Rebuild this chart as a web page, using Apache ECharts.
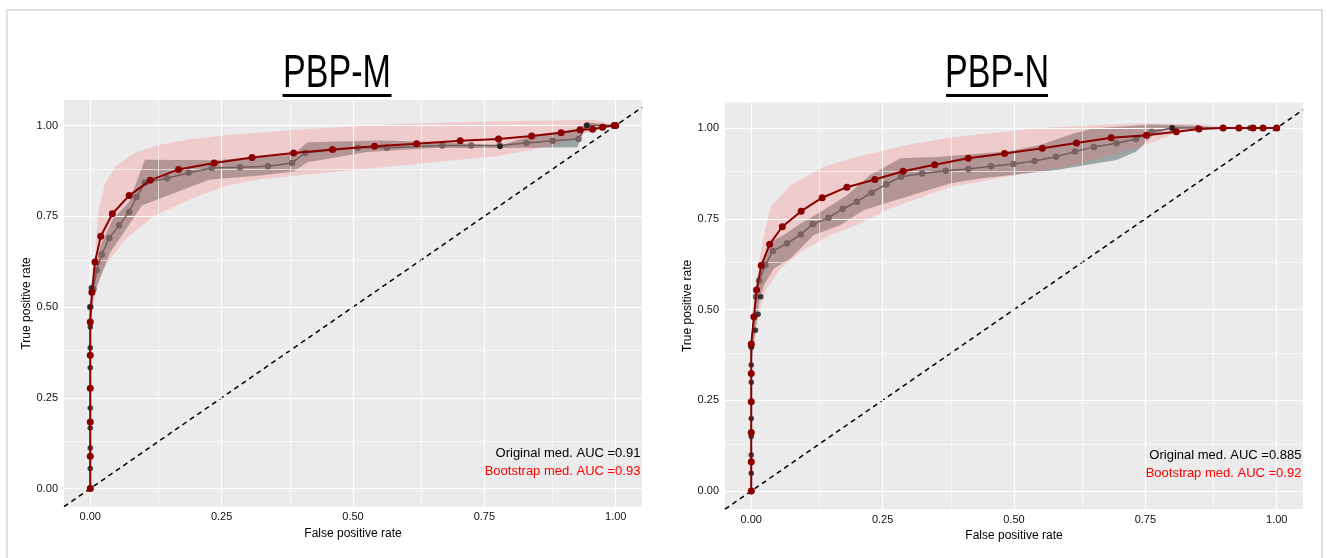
<!DOCTYPE html>
<html>
<head>
<meta charset="utf-8">
<script src="https://cdn.jsdelivr.net/npm/echarts@6/dist/echarts.min.js"></script>
<style>
  html, body { margin: 0; padding: 0; background: #ffffff; }
  #chart { width: 1327px; height: 558px; }
</style>
</head>
<body>
<div id="chart"></div>
<script>
// ---- data: ROC curves as [false positive rate, true positive rate] ----
const panelTitles = ['PBP-M', 'PBP-N'];
const tickValues = [0, 0.25, 0.5, 0.75, 1];
const minorValues = [0.125, 0.375, 0.625, 0.875];
const xAxisTitle = 'False positive rate';
const yAxisTitle = 'True positive rate';
const diagonalRef = [[-0.05, -0.05], [1.05, 1.05]];

// PBP-M
const mBootRoc = [[0,0],[0,0.089],[0,0.183],[0,0.276],[0,0.367],[0,0.459],[0.003,0.541],[0.009,0.624],[0.020,0.695],[0.042,0.757],[0.074,0.807],[0.114,0.849],[0.168,0.879],[0.236,0.897],[0.308,0.912],[0.387,0.924],[0.461,0.934],[0.541,0.943],[0.621,0.950],[0.704,0.958],[0.777,0.963],[0.840,0.971],[0.896,0.980],[0.932,0.988],[0.956,0.990],[0.975,0.995],[0.997,1.0],[1,1]];
const mOrigRoc = [[0,0],[0,0.5],[0.006,0.55],[0.012,0.601],[0.022,0.645],[0.036,0.690],[0.055,0.725],[0.074,0.762],[0.088,0.803],[0.104,0.842],[0.146,0.855],[0.187,0.870],[0.231,0.883],[0.285,0.885],[0.338,0.888],[0.384,0.897],[0.409,0.925],[0.509,0.939],[0.564,0.939],[0.670,0.945],[0.725,0.945],[0.779,0.945],[0.830,0.952],[0.880,0.958],[0.929,0.963],[0.945,1.0],[1,1]];
const mRawPts = [[0,0],[0,0.055],[0,0.112],[0,0.167],[0,0.222],[0,0.333],[0,0.388],[0,0.445],[0,0.5],[0.002,0.553],[0.78,0.942],[0.945,1.0],[1,1]];
const mOrigUpper = [[0,0.5],[0.006,0.59],[0.02,0.67],[0.042,0.74],[0.074,0.79],[0.104,0.906],[0.234,0.904],[0.324,0.913],[0.387,0.92],[0.413,0.954],[0.55,0.959],[0.65,0.955],[0.72,0.950],[0.78,0.945],[0.844,0.974],[0.927,0.991],[0.946,1.009],[1,1]];
const mOrigLower = [[0,0.45],[0.006,0.532],[0.018,0.578],[0.038,0.651],[0.069,0.716],[0.098,0.78],[0.165,0.817],[0.228,0.851],[0.324,0.862],[0.387,0.873],[0.413,0.899],[0.527,0.927],[0.653,0.938],[0.78,0.938],[0.927,0.94],[0.943,1.0],[1,1]];
const mBootUpper = [[0,0.5],[0.006,0.569],[0.015,0.76],[0.028,0.84],[0.05,0.89],[0.085,0.925],[0.13,0.946],[0.19,0.962],[0.260,0.974],[0.419,0.991],[0.59,1.005],[0.78,1.012],[0.959,1.016],[1,1]];
const mBootLower = [[0,0.45],[0.011,0.55],[0.031,0.62],[0.069,0.69],[0.12,0.75],[0.196,0.80],[0.26,0.835],[0.324,0.852],[0.419,0.866],[0.59,0.89],[0.78,0.917],[0.88,0.945],[0.94,0.978],[1,1]];
const mAucText = ['Original med. AUC =0.91', 'Bootstrap med. AUC =0.93'];

// PBP-N
const nBootRoc = [[0,0],[0,0.081],[0,0.161],[0,0.246],[0,0.324],[0,0.405],[0.005,0.48],[0.01,0.554],[0.019,0.621],[0.035,0.68],[0.059,0.728],[0.095,0.771],[0.135,0.808],[0.182,0.837],[0.235,0.858],[0.289,0.881],[0.349,0.899],[0.413,0.917],[0.482,0.930],[0.554,0.944],[0.619,0.959],[0.685,0.973],[0.752,0.980],[0.809,0.990],[0.852,0.997],[0.898,1],[0.928,1],[0.955,1],[0.974,1],[1,1]];
const nOrigRoc = [[0,0],[0,0.4],[0.009,0.535],[0.015,0.58],[0.027,0.623],[0.041,0.661],[0.068,0.682],[0.094,0.707],[0.117,0.735],[0.147,0.753],[0.174,0.777],[0.201,0.797],[0.229,0.822],[0.257,0.845],[0.285,0.866],[0.325,0.875],[0.370,0.882],[0.413,0.887],[0.456,0.895],[0.499,0.901],[0.539,0.909],[0.580,0.921],[0.616,0.935],[0.652,0.948],[0.695,0.958],[0.732,0.970],[0.762,0.990],[0.801,1],[1,1]];
const nRawPts = [[0,0],[0,0.049],[0,0.099],[0,0.15],[0,0.2],[0,0.246],[0,0.3],[0,0.347],[0,0.396],[0.008,0.443],[0.013,0.487],[0.018,0.535],[0.801,1],[0.85,1],[0.898,1],[0.949,1],[1,1]];
const nOrigUpper = [[0,0.4],[0.008,0.54],[0.021,0.632],[0.037,0.687],[0.062,0.705],[0.094,0.737],[0.138,0.774],[0.182,0.815],[0.227,0.871],[0.284,0.917],[0.36,0.921],[0.486,0.935],[0.55,0.953],[0.613,0.985],[0.651,0.999],[0.759,1.01],[0.848,1.006],[0.898,1.0],[1,1]];
const nOrigLower = [[0,0.35],[0.015,0.521],[0.024,0.567],[0.043,0.613],[0.075,0.641],[0.119,0.705],[0.17,0.733],[0.214,0.774],[0.265,0.797],[0.379,0.848],[0.436,0.861],[0.581,0.884],[0.695,0.912],[0.733,0.935],[0.765,0.981],[0.803,1.0],[1,1]];
const nBootUpper = [[0,0.4],[0.008,0.54],[0.015,0.632],[0.027,0.724],[0.037,0.783],[0.075,0.843],[0.138,0.893],[0.201,0.921],[0.296,0.953],[0.379,0.974],[0.55,1.0],[0.74,1.013],[0.867,1.01],[0.9,1.0],[1,1]];
const nBootLower = [[0,0.35],[0.015,0.494],[0.030,0.558],[0.056,0.613],[0.094,0.659],[0.151,0.705],[0.201,0.733],[0.265,0.779],[0.379,0.838],[0.487,0.866],[0.613,0.898],[0.74,0.948],[0.803,0.983],[0.867,0.999],[1,1]];
const nAucText = ['Original med. AUC =0.885', 'Bootstrap med. AUC =0.92'];

// ---- layout & styling ----
const FONT = '"Liberation Sans", Arial, sans-serif';
const panels = [
  { grid: { left: 64, top: 100.1 }, titleX: 337, titleW: 109,
    boot: mBootRoc, orig: mOrigRoc, raw: mRawPts,
    origUp: mOrigUpper, origLo: mOrigLower, bootUp: mBootUpper, bootLo: mBootLower, auc: mAucText },
  { grid: { left: 725, top: 102.6 }, titleX: 997, titleW: 102,
    boot: nBootRoc, orig: nOrigRoc, raw: nRawPts,
    origUp: nOrigUpper, origLo: nOrigLower, bootUp: nBootUpper, bootLo: nBootLower, auc: nAucText }
];
const aucColors = ['#000000', '#ff0000'];
const aucAnchor = [[1.047, 0.098], [1.047, 0.048]];

function ribbonRenderer(upper, lower, fill) {
  return function (params, api) {
    const pts = upper.concat(lower.slice().reverse()).map(p => api.coord(p));
    return { type: 'polygon', shape: { points: pts }, style: { fill: fill }, silent: true };
  };
}

function gridLines() {
  const major = { color: '#ffffff', width: 1.2, type: 'solid' };
  const minor = { color: '#ffffff', width: 0.6, type: 'solid' };
  const items = [];
  tickValues.forEach(v => { items.push({ xAxis: v, lineStyle: major }); items.push({ yAxis: v, lineStyle: major }); });
  minorValues.forEach(v => { items.push({ xAxis: v, lineStyle: minor }); items.push({ yAxis: v, lineStyle: minor }); });
  return items;
}

const grids = [], xAxes = [], yAxes = [], series = [], graphics = [];

graphics.push({ type: 'rect', shape: { x: 7, y: 10, width: 1315, height: 560 },
  style: { fill: 'none', stroke: '#e0e0e0', lineWidth: 2 }, silent: true });

panels.forEach((p, i) => {
  grids.push({ left: p.grid.left, top: p.grid.top, width: 578, height: 406.6, show: true,
    backgroundColor: '#ebebeb', borderWidth: 0, containLabel: false });
  const common = {
    type: 'value', gridIndex: i,
    axisLine: { show: false },
    axisTick: { show: true, customValues: tickValues, length: 3, lineStyle: { color: '#222222', width: 1 } },
    axisLabel: { customValues: tickValues, formatter: v => Number(v).toFixed(2),
      color: '#111111', fontSize: 11, fontFamily: FONT },
    splitLine: { show: false },
    nameLocation: 'middle',
    nameTextStyle: { fontSize: 12, color: '#000000', fontFamily: FONT }
  };
  xAxes.push(Object.assign({}, common, { min: -0.05, max: 1.05, name: xAxisTitle, nameGap: 20,
    axisLabel: Object.assign({}, common.axisLabel, { margin: 5 }) }));
  yAxes.push(Object.assign({}, common, { min: -0.05, max: 1.07, name: yAxisTitle, nameGap: 31,
    axisLabel: Object.assign({}, common.axisLabel, { margin: 6 }) }));

  const ax = { xAxisIndex: i, yAxisIndex: i, animation: false };

  // panel grid lines
  series.push(Object.assign({ type: 'line', data: [], z: 1, silent: true,
    markLine: { silent: true, symbol: ['none', 'none'], label: { show: false },
      emphasis: { disabled: true }, animation: false, data: gridLines() } }, ax));

  // confidence bands
  series.push(Object.assign({ type: 'custom', data: [0], z: 2, clip: true,
    renderItem: ribbonRenderer(p.origUp, p.origLo, 'rgba(50,72,72,0.43)') }, ax));
  series.push(Object.assign({ type: 'custom', data: [0], z: 3, clip: true,
    renderItem: ribbonRenderer(p.bootUp, p.bootLo, 'rgba(255,100,100,0.24)') }, ax));

  // chance line
  series.push(Object.assign({ type: 'line', data: diagonalRef, z: 4, symbol: 'none', silent: true,
    lineStyle: { color: '#000000', width: 1.5, type: [5, 4] } }, ax));

  // original median curve
  series.push(Object.assign({ type: 'line', data: p.orig, z: 5, symbol: 'circle', symbolSize: 6.5,
    itemStyle: { color: '#7a6262' }, lineStyle: { color: '#725c5c', width: 1.5 } }, ax));

  // raw points
  series.push(Object.assign({ type: 'scatter', data: p.raw, z: 6, symbolSize: 5.5,
    itemStyle: { color: '#111111' } }, ax));

  // bootstrap median curve
  series.push(Object.assign({ type: 'line', data: p.boot, z: 7, symbol: 'circle', symbolSize: 7,
    itemStyle: { color: '#8b0000' }, lineStyle: { color: '#8b0000', width: 2 } }, ax));

  // AUC annotations
  series.push(Object.assign({ type: 'custom', data: aucAnchor, z: 8, clip: true,
    renderItem: function (params, api) {
      const c = api.coord([api.value(0), api.value(1)]);
      return { type: 'text', x: c[0], y: c[1], silent: true,
        style: { text: p.auc[params.dataIndex], fill: aucColors[params.dataIndex],
          fontSize: 13, fontFamily: FONT, align: 'right', verticalAlign: 'middle' } };
    } }, ax));

  // panel heading with underline
  graphics.push({ type: 'text', x: p.titleX, y: 74, scaleX: 0.74, silent: true,
    style: { text: panelTitles[i], font: '46px "Liberation Sans", Arial, sans-serif',
      fill: '#000000', align: 'center', verticalAlign: 'middle' } });
  graphics.push({ type: 'rect', shape: { x: p.titleX - p.titleW / 2, y: 94, width: p.titleW, height: 3 },
    style: { fill: '#000000' }, silent: true });
});

const chart = echarts.init(document.getElementById('chart'), null, { renderer: 'canvas' });
chart.setOption({
  animation: false,
  backgroundColor: '#ffffff',
  grid: grids,
  xAxis: xAxes,
  yAxis: yAxes,
  series: series,
  graphic: graphics
});
</script>
</body>
</html>
